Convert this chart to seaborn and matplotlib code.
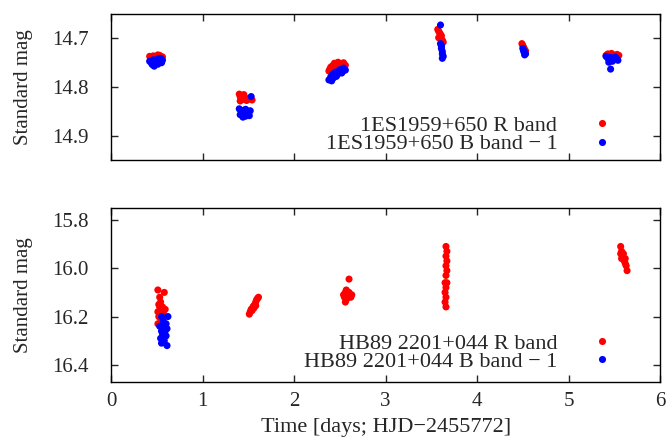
import matplotlib
matplotlib.use("Agg")
import matplotlib.pyplot as plt
import seaborn as sns
import pandas as pd

# --- 1ES1959+650, R band ---
t_1es_r = [0.42, 0.44, 0.46, 0.47, 0.49, 0.50, 0.52, 0.53, 0.55, 0.56, 0.45, 0.51,
           1.40, 1.41, 1.42, 1.43, 1.44, 1.46, 1.48, 1.50, 1.52, 1.54, 1.41, 1.45,
           2.38, 2.40, 2.42, 2.44, 2.46, 2.48, 2.50, 2.52, 2.54, 2.56, 2.39, 2.47,
           3.57, 3.58, 3.59, 3.60, 3.61, 3.62, 3.63, 3.58,
           4.49, 4.50, 4.51, 4.52, 4.53, 4.52,
           5.41, 5.43, 5.45, 5.47, 5.49, 5.51, 5.53, 5.55, 5.44, 5.52]
m_1es_r = [14.738, 14.740, 14.737, 14.741, 14.739, 14.742, 14.738, 14.736, 14.740, 14.739, 14.744, 14.735,
           14.815, 14.820, 14.824, 14.818, 14.826, 14.822, 14.828, 14.825, 14.823, 14.827, 14.829, 14.816,
           14.768, 14.760, 14.757, 14.752, 14.755, 14.750, 14.758, 14.753, 14.751, 14.756, 14.764, 14.761,
           14.683, 14.687, 14.690, 14.693, 14.696, 14.705, 14.709, 14.700,
           14.712, 14.716, 14.720, 14.724, 14.727, 14.731,
           14.736, 14.733, 14.738, 14.732, 14.735, 14.737, 14.734, 14.736, 14.741, 14.740]

# --- 1ES1959+650, B band - 1 ---
t_1es_b = [0.42, 0.44, 0.46, 0.47, 0.48, 0.50, 0.51, 0.53, 0.54, 0.55, 0.56, 0.45, 0.49, 0.52,
           1.40, 1.42, 1.43, 1.44, 1.45, 1.46, 1.47, 1.48, 1.49, 1.50, 1.52, 1.53, 1.41, 1.44, 1.47, 1.51,
           2.38, 2.40, 2.42, 2.43, 2.45, 2.47, 2.49, 2.50, 2.52, 2.54, 2.56, 2.41, 2.46, 2.53,
           3.60, 3.60, 3.61, 3.61, 3.62, 3.62, 3.63, 3.62, 3.61,
           4.50, 4.51, 4.52, 4.53, 4.52, 4.51,
           5.41, 5.43, 5.45, 5.46, 5.48, 5.50, 5.52, 5.54, 5.46, 5.44, 5.51]
m_1es_b = [14.748, 14.752, 14.745, 14.758, 14.750, 14.744, 14.754, 14.747, 14.742, 14.751, 14.746, 14.755, 14.749, 14.743,
           14.845, 14.850, 14.855, 14.858, 14.848, 14.852, 14.860, 14.856, 14.851, 14.854, 14.849, 14.820, 14.857, 14.862, 14.846, 14.859,
           14.786, 14.780, 14.775, 14.782, 14.770, 14.776, 14.768, 14.765, 14.772, 14.762, 14.766, 14.788, 14.779, 14.769,
           14.674, 14.712, 14.718, 14.722, 14.728, 14.733, 14.738, 14.742, 14.716,
           14.722, 14.726, 14.730, 14.733, 14.735, 14.728,
           14.738, 14.742, 14.745, 14.740, 14.748, 14.744, 14.741, 14.746, 14.764, 14.750, 14.739]

# --- HB89 2201+044, R band ---
t_hb_r = [0.51, 0.58, 0.53, 0.54, 0.52, 0.56, 0.55, 0.51, 0.53, 0.57, 0.59, 0.52, 0.54, 0.56, 0.51, 0.55, 0.58, 0.53,
          1.51, 1.52, 1.53, 1.54, 1.55, 1.56, 1.57, 1.58, 1.59, 1.60, 1.61, 1.56, 1.58,
          2.54, 2.55, 2.56, 2.57, 2.58, 2.59, 2.60, 2.61, 2.62, 2.63, 2.57, 2.60, 2.56,
          3.66, 3.67, 3.66, 3.67, 3.66, 3.67, 3.66, 3.65, 3.66, 3.65, 3.66, 3.65, 3.66, 3.67,
          5.57, 5.58, 5.57, 5.59, 5.60, 5.58, 5.61, 5.62, 5.63, 5.64, 5.62, 5.60]
m_hb_r = [16.09, 16.10, 16.12, 16.14, 16.15, 16.16, 16.17, 16.18, 16.19, 16.18, 16.17, 16.20, 16.21, 16.22, 16.23, 16.19, 16.20, 16.16,
          16.19, 16.18, 16.17, 16.175, 16.16, 16.155, 16.15, 16.14, 16.13, 16.125, 16.12, 16.165, 16.155,
          16.11, 16.12, 16.10, 16.13, 16.11, 16.12, 16.10, 16.11, 16.12, 16.11, 16.09, 16.045, 16.14,
          15.91, 15.93, 15.95, 15.97, 15.99, 16.01, 16.03, 16.06, 16.08, 16.10, 16.12, 16.14, 16.16, 16.06,
          15.91, 15.93, 15.94, 15.95, 15.96, 15.96, 15.97, 15.98, 15.99, 16.01, 15.96, 15.94]

# --- HB89 2201+044, B band - 1 ---
t_hb_b = [0.55, 0.62, 0.57, 0.60, 0.53, 0.58, 0.61, 0.55, 0.59, 0.56, 0.60, 0.54, 0.58, 0.55, 0.61, 0.57]
m_hb_b = [16.20, 16.20, 16.22, 16.23, 16.24, 16.24, 16.25, 16.26, 16.26, 16.27, 16.28, 16.29, 16.30, 16.31, 16.32, 16.25]

labels_1es = ["1ES1959+650 R band", "1ES1959+650 B band \u2212 1"]
labels_hb = ["HB89 2201+044 R band", "HB89 2201+044 B band \u2212 1"]
colors = ["#ff0000", "#0000ff"]

sns.set_style("ticks")
plt.rcParams['font.family'] = ['Liberation Serif', 'DejaVu Serif']

df_top = pd.concat([
    pd.DataFrame({"t": t_1es_r, "mag": m_1es_r, "band": labels_1es[0]}),
    pd.DataFrame({"t": t_1es_b, "mag": m_1es_b, "band": labels_1es[1]}),
])
df_bot = pd.concat([
    pd.DataFrame({"t": t_hb_r, "mag": m_hb_r, "band": labels_hb[0]}),
    pd.DataFrame({"t": t_hb_b, "mag": m_hb_b, "band": labels_hb[1]}),
])

fig = plt.figure(figsize=(6.66, 4.44), dpi=100)
ax1 = fig.add_axes([0.167, 0.639, 0.824, 0.329])
ax2 = fig.add_axes([0.167, 0.140, 0.824, 0.392])

# legend anchor (axes coords) for each panel
anchors = [(0.914, 0.04), (0.914, 0.055)]

for ax, df, labels, anc in [(ax1, df_top, labels_1es, anchors[0]), (ax2, df_bot, labels_hb, anchors[1])]:
    sns.scatterplot(data=df, x="t", y="mag", hue="band", hue_order=labels,
                    palette=dict(zip(labels, colors)), s=26, linewidth=0, ax=ax)
    ax.set_xlim(0, 6)
    ax.set_xticks(range(7))
    ax.tick_params(direction="in", top=True, right=True, length=5, width=1,
                   labelsize=15)
    ax.tick_params(axis="y", pad=16)
    ax.tick_params(axis="x", pad=7)
    for sp in ax.spines.values():
        sp.set_linewidth(1)
        sp.set_color("black")
    ax.set_ylabel("Standard mag", fontsize=15, labelpad=14)
    ax.legend(loc="lower right", bbox_to_anchor=anc, markerfirst=False, frameon=False,
              fontsize=16, handletextpad=1.5, borderaxespad=0, borderpad=0,
              labelspacing=-0.1, handlelength=1.0, markerscale=1.0)

ax1.set_ylim(14.95, 14.652)
ax1.set_yticks([14.7, 14.8, 14.9])
ax1.set_xlabel("")
ax1.tick_params(labelbottom=False)

ax2.set_ylim(16.47, 15.75)
ax2.set_yticks([15.8, 16.0, 16.2, 16.4])
ax2.set_yticklabels(["15.8", "16.0", "16.2", "16.4"])
ax2.set_xlabel("Time [days; HJD\u22122455772]", fontsize=16, labelpad=5)

fig.savefig("out.png", dpi=100)
